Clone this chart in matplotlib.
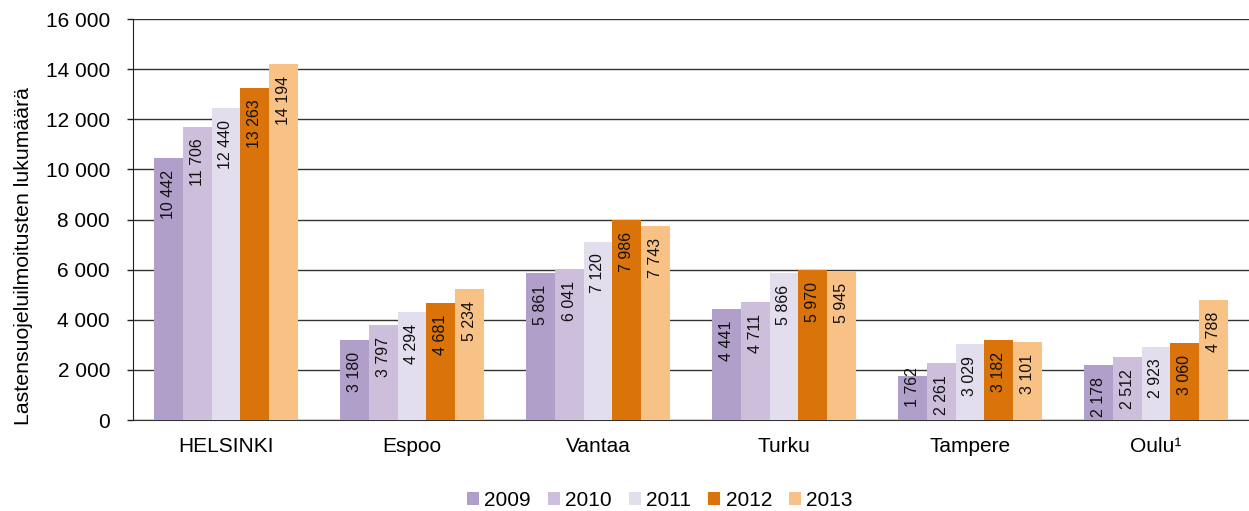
import matplotlib.pyplot as plt
import numpy as np
from matplotlib.ticker import FuncFormatter

cities = ["HELSINKI", "Espoo", "Vantaa", "Turku", "Tampere", "Oulu¹"]
years = ["2009", "2010", "2011", "2012", "2013"]
v2009 = [10442, 3180, 5861, 4441, 1762, 2178]
v2010 = [11706, 3797, 6041, 4711, 2261, 2512]
v2011 = [12440, 4294, 7120, 5866, 3029, 2923]
v2012 = [13263, 4681, 7986, 5970, 3182, 3060]
v2013 = [14194, 5234, 7743, 5945, 3101, 4788]
series = [v2009, v2010, v2011, v2012, v2013]
colors = ["#B09FC8", "#CDBFDB", "#E3DEEE", "#D9730A", "#F8C286"]

plt.rcParams["font.family"] = ["Liberation Sans", "DejaVu Sans"]

fig = plt.figure(figsize=(12.49, 5.11), dpi=100)
ax = fig.add_axes([133 / 1249, 91 / 511, 1 - 133 / 1249, 401 / 511])

def fmt(v):
    return f"{int(v):,}".replace(",", " ")

x = np.arange(len(cities))
w = 0.1538
for i, (vals, c, yr) in enumerate(zip(series, colors, years)):
    pos = x + (i - 2) * w
    ax.bar(pos, vals, width=w, color=c, label=yr, zorder=3)
    for p, v in zip(pos, vals):
        if v < 2000:
            # too short for an inside-end label: sit it just above the base
            ax.annotate(fmt(v), (p, 0), xytext=(0, 9.5), textcoords="offset points",
                        rotation=90, ha="center", va="bottom", fontsize=11.5,
                        color="#111111", zorder=4)
        else:
            ax.annotate(fmt(v), (p, v), xytext=(0, -8.5), textcoords="offset points",
                        rotation=90, ha="center", va="top", fontsize=11.5,
                        color="#111111", zorder=4)

ax.set_xlim(-0.5, 5.5)
ax.set_ylim(0, 16000)
ax.set_yticks(range(0, 16001, 2000))
ax.yaxis.set_major_formatter(FuncFormatter(lambda v, p: fmt(v)))
ax.set_xticks(x)
ax.set_xticklabels(cities, fontsize=15)
ax.tick_params(axis="y", labelsize=15, length=4.5, width=1, direction="out",
               pad=12, color="#222222")
ax.tick_params(axis="x", length=0, pad=12)
ax.grid(axis="y", color="#333333", linewidth=1, zorder=0)
for s in ["top", "right"]:
    ax.spines[s].set_visible(False)
ax.spines["bottom"].set_color("#333333")
ax.spines["left"].set_color("#222222")
ax.set_ylabel("Lastensuojeluilmoitusten lukumäärä", fontsize=15.3)
ax.yaxis.set_label_coords(-0.09, 0.41)

ax.legend(loc="center", bbox_to_anchor=(0.472, -0.2), ncol=5, frameon=False,
          fontsize=15, handlelength=0.6, handleheight=0.6, handletextpad=0.25,
          columnspacing=0.8)

fig.savefig("out.png", dpi=100)
